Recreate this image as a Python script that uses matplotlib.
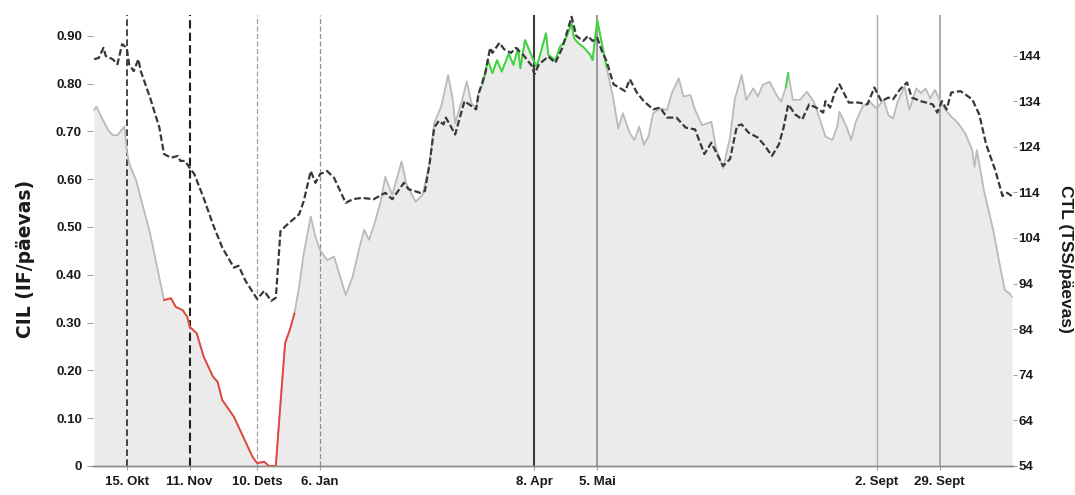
import matplotlib
matplotlib.use("Agg")
import matplotlib.pyplot as plt
import numpy as np

# Season start; all series positions are day offsets from this date
season_start = np.datetime64("2012-10-01")

# Chronic intensity load (IF per day) - left axis, shaded area
cil_day = [0, 1, 3, 6, 8, 10, 13, 14, 15, 18, 21, 24, 27, 30, 33, 35, 38, 40, 41, 44,
           47, 51, 53, 55, 60, 64, 68, 70, 73, 75, 78, 80, 82, 84, 86, 88, 90, 93, 95, 97,
           100, 103, 108, 111, 114, 116, 118, 120, 123, 125, 128, 132, 134, 138, 141, 144,
           146, 149, 152, 154, 155, 158, 160, 162, 164, 165, 167, 169, 171, 173, 175, 178,
           180, 182, 183, 185, 188, 190, 192, 194, 195, 198, 200, 202, 205, 206, 208, 210,
           213, 214, 216, 218, 220, 223, 225, 227, 230, 232, 234, 236, 238, 240, 243, 246,
           248, 251, 253, 256, 258, 261, 265, 267, 270, 273, 275, 278, 280, 283, 285, 287,
           290, 293, 295, 297, 298, 300, 303, 306, 309, 311, 314, 317, 319, 320, 323, 325,
           327, 330, 333, 336, 339, 341, 343, 345, 348, 350, 353, 355, 357, 359, 361, 363,
           365, 368, 371, 374, 377, 378, 379, 382, 386, 389, 391, 393, 394]
cil_value = [0.745, 0.752, 0.731, 0.703, 0.692, 0.692, 0.710, 0.661, 0.633, 0.598, 0.542,
             0.487, 0.417, 0.347, 0.351, 0.333, 0.326, 0.312, 0.291, 0.278, 0.229, 0.187,
             0.176, 0.138, 0.103, 0.061, 0.019, 0.006, 0.009, 0.0, 0.0, 0.131, 0.257, 0.285,
             0.319, 0.375, 0.445, 0.522, 0.480, 0.452, 0.431, 0.438, 0.358, 0.396, 0.459,
             0.494, 0.473, 0.501, 0.553, 0.605, 0.567, 0.637, 0.591, 0.553, 0.567, 0.633,
             0.717, 0.752, 0.818, 0.766, 0.717, 0.766, 0.804, 0.759, 0.748, 0.780, 0.801,
             0.849, 0.822, 0.849, 0.825, 0.863, 0.839, 0.874, 0.832, 0.891, 0.856, 0.835,
             0.870, 0.905, 0.860, 0.849, 0.877, 0.888, 0.926, 0.895, 0.884, 0.877, 0.860,
             0.849, 0.933, 0.884, 0.835, 0.766, 0.706, 0.738, 0.696, 0.682, 0.710, 0.672,
             0.689, 0.738, 0.748, 0.745, 0.780, 0.811, 0.773, 0.776, 0.745, 0.713, 0.720,
             0.665, 0.623, 0.686, 0.766, 0.818, 0.766, 0.790, 0.773, 0.797, 0.804, 0.776,
             0.762, 0.793, 0.822, 0.766, 0.766, 0.783, 0.762, 0.734, 0.689, 0.682, 0.710,
             0.741, 0.710, 0.682, 0.720, 0.752, 0.762, 0.748, 0.766, 0.734, 0.727, 0.762,
             0.794, 0.745, 0.790, 0.780, 0.790, 0.769, 0.787, 0.766, 0.748, 0.731, 0.717,
             0.696, 0.661, 0.626, 0.661, 0.577, 0.494, 0.417, 0.368, 0.361, 0.354]

# Chronic training load (TSS per day) - right axis, dashed line
ctl_day = [0, 2, 4, 5, 8, 10, 12, 14, 15, 17, 19, 20, 24, 28, 30, 33, 36, 37, 39, 41, 43,
           47, 51, 55, 60, 62, 65, 70, 73, 76, 78, 80, 83, 88, 90, 93, 95, 97, 100, 103,
           108, 111, 115, 120, 125, 128, 133, 135, 140, 142, 144, 146, 148, 150, 151, 153,
           155, 157, 159, 161, 164, 165, 168, 170, 171, 174, 176, 179, 181, 184, 188, 189,
           191, 195, 198, 201, 205, 207, 210, 212, 214, 216, 218, 220, 223, 228, 230, 233,
           236, 240, 243, 246, 250, 254, 258, 262, 265, 270, 273, 276, 278, 281, 285, 288,
           291, 294, 296, 298, 301, 304, 307, 310, 313, 314, 316, 318, 320, 324, 328, 332,
           335, 338, 341, 343, 346, 349, 351, 355, 360, 362, 364, 366, 368, 372, 374, 377,
           380, 383, 387, 390, 392, 394]
ctl_value = [143.2, 143.5, 145.7, 143.9, 143.2, 142.1, 146.5, 145.7, 142.1, 140.6, 143.2,
             140.6, 134.8, 128.2, 122.4, 121.6, 122.0, 120.9, 120.9, 119.4, 118.0, 112.8,
             107.0, 101.9, 97.5, 97.9, 94.6, 90.6, 92.4, 90.2, 90.9, 105.5, 107.0, 109.2,
             112.1, 118.7, 116.1, 118.0, 118.7, 117.2, 111.7, 112.5, 112.8, 112.5, 113.9,
             112.5, 116.1, 114.7, 113.9, 114.3, 120.2, 128.2, 129.7, 128.9, 130.4, 128.6,
             126.7, 130.4, 134.0, 133.3, 132.2, 135.5, 140.3, 145.7, 144.6, 146.8, 145.4,
             144.6, 145.7, 144.3, 141.7, 139.9, 142.1, 143.8, 142.4, 145.7, 152.5, 148.3,
             147.2, 148.3, 147.2, 147.9, 145.0, 142.8, 137.7, 136.2, 138.8, 135.9, 134.0,
             132.2, 132.6, 130.4, 130.4, 128.2, 127.8, 122.4, 124.9, 119.8, 121.3, 128.6,
             128.9, 127.1, 126.0, 124.2, 122.0, 124.5, 128.2, 133.3, 131.1, 130.0, 133.3,
             132.6, 131.5, 134.0, 132.6, 135.9, 137.7, 133.7, 133.7, 133.3, 137.0, 134.0,
             134.8, 134.4, 136.6, 138.1, 134.8, 134.0, 133.3, 131.5, 134.0, 132.2, 135.9,
             136.2, 135.5, 134.4, 131.1, 124.5, 118.7, 113.2, 113.9, 113.2]

# Marked events along the season
event_dates = ["2012-10-15", "2012-11-11", "2012-12-10", "2013-01-06",
               "2013-04-08", "2013-05-05", "2013-09-02", "2013-09-29"]
event_labels = ["15. Okt", "11. Nov", "10. Dets", "6. Jan",
                "8. Apr", "5. Mai", "2. Sept", "29. Sept"]

cil_ticks = [0, 0.1, 0.2, 0.3, 0.4, 0.5, 0.6, 0.7, 0.8, 0.9]
ctl_ticks = [54, 64, 74, 84, 94, 104, 114, 124, 134, 144]

# Periods where the CIL curve is highlighted (low: red, high: green)
low_periods = [(30, 86)]
high_periods = [(167, 220), (297, 299)]

event_day = [int((np.datetime64(d) - season_start).astype(int)) for d in event_dates]

event_styles = [
    dict(color="#2a2a2a", ls=(0, (4, 2)), lw=1.2),
    dict(color="#1e1e1e", ls=(0, (4, 2)), lw=1.5),
    dict(color="#a0a0a0", ls=(0, (4, 2)), lw=0.9),
    dict(color="#8e8e8e", ls=(0, (4, 2)), lw=0.9),
    dict(color="#3a3a3a", ls="-", lw=1.5),
    dict(color="#8a8a8a", ls="-", lw=1.2),
    dict(color="#ababab", ls="-", lw=1.0),
    dict(color="#959595", ls="-", lw=1.1),
]

plt.rcParams["font.family"] = ["Liberation Sans", "DejaVu Sans"]
plt.rcParams["font.weight"] = "bold"

fig = plt.figure(figsize=(10.75, 4.95), dpi=100)
ax = fig.add_axes([0.0865, 0.0586, 0.8558, 0.9111])
ax2 = ax.twinx()

cd = np.array(cil_day)
cv = np.array(cil_value)

ax.fill_between(cd, cv, 0, color="#ebebeb", lw=0, zorder=1)
for d, st in zip(event_day, event_styles):
    ax.axvline(d, zorder=2, **st)
ax.plot(cd, cv, color="#bababa", lw=1.3, zorder=3)
for a, b in low_periods:
    m = (cd >= a) & (cd <= b)
    ax.plot(cd[m], cv[m], color="#e8413a", lw=1.3, zorder=4)
for a, b in high_periods:
    m = (cd >= a) & (cd <= b)
    ax.plot(cd[m], cv[m], color="#36d936", lw=1.3, zorder=4)

ax2.plot(ctl_day, ctl_value, color="#383838", lw=1.6, ls=(0, (3, 1.3)), zorder=5)

ax.set_xlim(-0.5, 394.5)
ax.set_ylim(0, 0.9435)
ax2.set_ylim(54, 152.9)

ax.set_yticks(cil_ticks)
ax.set_yticklabels(["0"] + [f"{t:.2f}" for t in cil_ticks[1:]])
ax2.set_yticks(ctl_ticks)
ax2.set_yticklabels([str(t) for t in ctl_ticks])
ax.set_xticks(event_day)
ax.set_xticklabels(event_labels)

for a in (ax, ax2):
    for s in ("top", "left", "right"):
        a.spines[s].set_visible(False)
    a.spines["bottom"].set_color("#8a8a8a")
    a.spines["bottom"].set_linewidth(1.0)

ax.tick_params(axis="y", length=4, width=0.8, color="#a0a0a0", pad=4,
               labelsize=9.5, labelcolor="#1a1a1a")
ax2.tick_params(axis="y", length=3, width=0.8, color="#a0a0a0", pad=1,
                labelsize=9.5, labelcolor="#1a1a1a")
ax.tick_params(axis="x", length=3, width=0.8, color="#a0a0a0", pad=4,
               labelsize=9.5, labelcolor="#1a1a1a")

ax.set_ylabel("CIL (IF/päevas)", fontsize=13.5, fontweight="bold", color="#1a1a1a",
              family=["DejaVu Sans"])
ax2.set_ylabel("CTL (TSS/päevas)", fontsize=12.5, fontweight="bold", color="#1a1a1a",
               rotation=270, va="center", ha="center")
ax.yaxis.set_label_coords(-0.063, 0.46)
ax2.yaxis.set_label_coords(1.057, 0.46)

ax.set_zorder(ax2.get_zorder() - 1)
ax.patch.set_visible(False)

fig.savefig("out.png", dpi=100, facecolor="white")
